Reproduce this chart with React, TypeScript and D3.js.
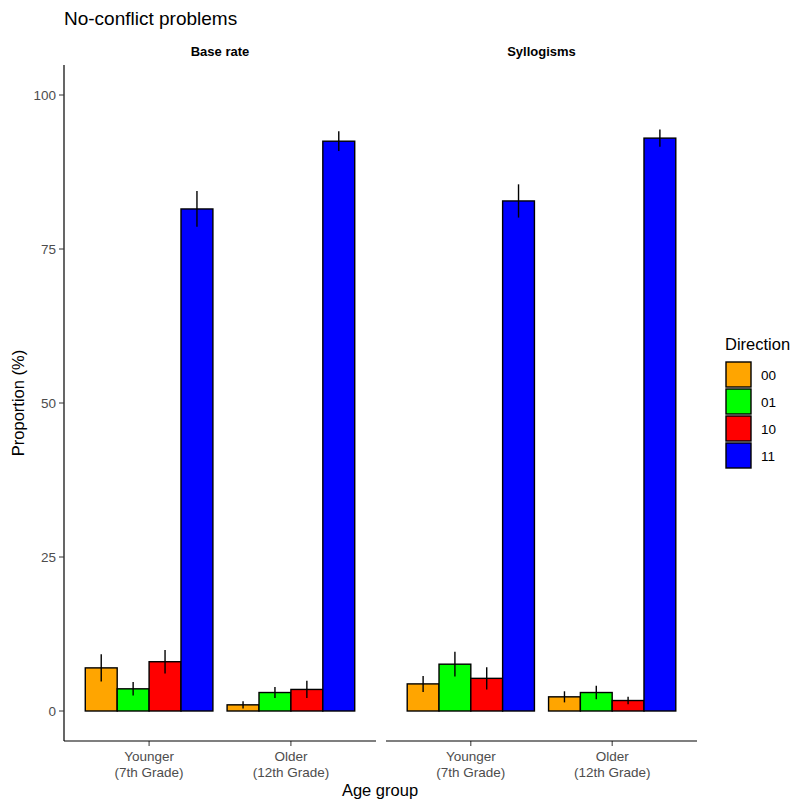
import * as d3 from 'd3'

const panels = ['Base rate', 'Syllogisms']
const groups = ['Younger\n(7th Grade)', 'Older\n(12th Grade)']
const directions = ['00', '01', '10', '11']
const colors = ['orange', '#00ff00', 'red', 'blue']
const yTicks = [0, 25, 50, 75, 100]

// [panel][group][direction]
const means = [
  [[7.0, 3.6, 8.0, 81.5], [1.0, 3.0, 3.5, 92.5]],
  [[4.4, 7.6, 5.3, 82.8], [2.3, 3.0, 1.7, 93.0]],
]
const errs = [
  [[2.2, 1.1, 1.9, 2.9], [0.6, 0.9, 1.4, 1.6]],
  [[1.3, 2.0, 1.8, 2.7], [0.9, 1.1, 0.6, 1.4]],
]

const width = 793
const height = 800
const top = 65
const bottom = 741
const panelX = [[64, 376], [386, 697]]
const font = 'Arial, "Liberation Sans", sans-serif'

const y = d3.scaleLinear().domain([-5, 105]).range([741.8, 64.2])

function App() {
  return (
    <svg width={width} height={height} style={{ position: 'absolute', left: 0, top: 0, fontFamily: font }}>
      <rect width={width} height={height} fill="white" />
      <text x={64} y={25} fontSize={19} fill="black">No-conflict problems</text>

      {panels.map((p, pi) => {
        const [x0, x1] = panelX[pi]
        // ggplot discrete axis: centers at 0.6 and 1.6 units of a 2.2-unit range
        const unit = (x1 - x0) / 2.2
        const center = (gi: number) => x0 + (0.6 + gi) * unit
        const xd = d3.scaleBand().domain(directions).range([-0.45 * unit, 0.45 * unit])
        return (
          <g key={p}>
            <text x={(x0 + x1) / 2} y={56} fontSize={13} fontWeight="bold" textAnchor="middle">{p}</text>
            {groups.map((g, gi) => (
              <g key={g} transform={`translate(${center(gi)},0)`}>
                {directions.map((d, di) => {
                  const m = means[pi][gi][di]
                  const e = errs[pi][gi][di]
                  const bx = xd(d)!
                  return (
                    <g key={d}>
                      <rect x={bx} y={y(m)} width={xd.bandwidth()} height={y(0) - y(m)}
                        fill={colors[di]} stroke="black" strokeWidth={1.4} />
                      <line x1={bx + xd.bandwidth() / 2} x2={bx + xd.bandwidth() / 2}
                        y1={y(m - e)} y2={y(m + e)} stroke="black" strokeWidth={1.4} />
                    </g>
                  )
                })}
                <line y1={bottom} y2={bottom + 5} stroke="#333" strokeWidth={1} />
                {g.split('\n').map((s, li) => (
                  <text key={li} y={bottom + 20 + li * 16} textAnchor="middle" fontSize={13.5} fill="#4d4d4d">{s}</text>
                ))}
              </g>
            ))}
            <line x1={x0} x2={x1} y1={bottom} y2={bottom} stroke="black" strokeWidth={1.2} />
          </g>
        )
      })}

      <line x1={64} x2={64} y1={top} y2={bottom} stroke="black" strokeWidth={1.2} />
      {yTicks.map(t => (
        <g key={t}>
          <line x1={59} x2={64} y1={y(t)} y2={y(t)} stroke="#333" />
          <text x={56} y={y(t)} dy="0.35em" textAnchor="end" fontSize={13.5} fill="#4d4d4d">{t}</text>
        </g>
      ))}

      <text x={380} y={796} textAnchor="middle" fontSize={16.5}>Age group</text>
      <text transform={`translate(24,${(top + bottom) / 2}) rotate(-90)`} textAnchor="middle" fontSize={16.5}>Proportion (%)</text>

      <text x={725} y={350} fontSize={16.5}>Direction</text>
      {directions.map((d, i) => (
        <g key={d} transform={`translate(725,${361 + i * 27})`}>
          <rect x={1} y={1} width={25} height={25} fill={colors[i]} stroke="black" strokeWidth={1.4} />
          <text x={36} y={14} dy="0.35em" fontSize={13.5}>{d}</text>
        </g>
      ))}
    </svg>
  )
}

export default App
